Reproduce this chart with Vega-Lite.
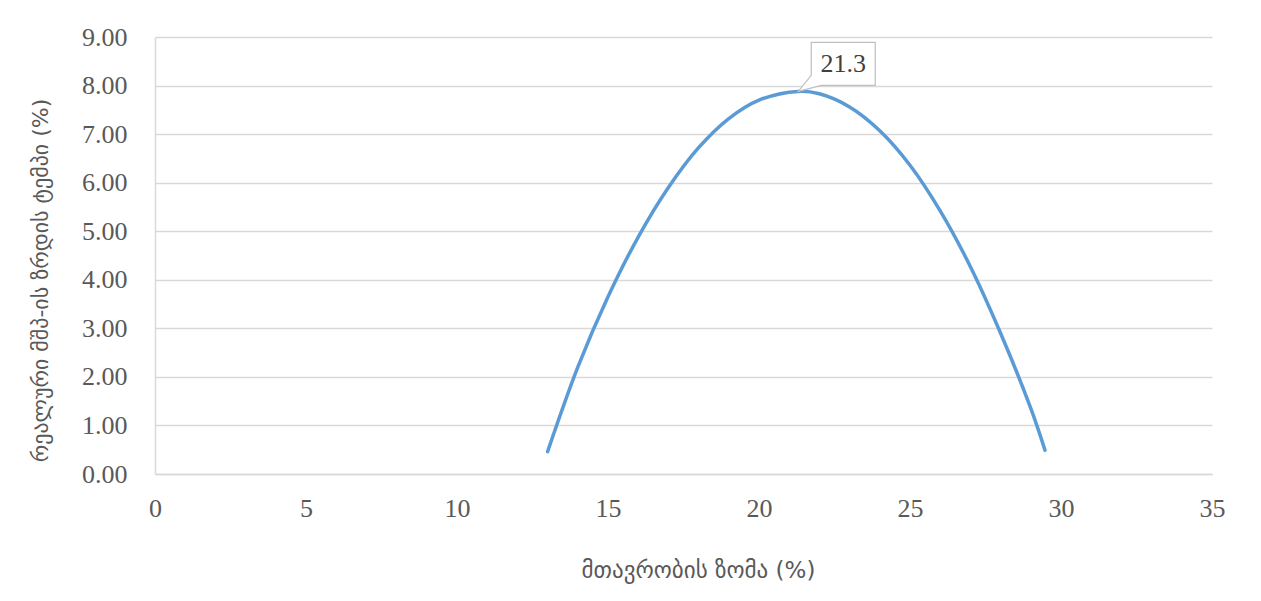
{
  "$schema": "https://vega.github.io/schema/vega-lite/v6.json",
  "width": 1057,
  "height": 437,
  "autosize": {"type": "none"},
  "padding": {"left": 155, "top": 37, "right": 49, "bottom": 127},
  "background": "white",
  "config": {"view": {"stroke": null}},
  "datasets": {
    "curve": [
      {"x": 13.0, "y": 0.46},
      {"x": 14.0, "y": 2.2},
      {"x": 15.0, "y": 3.65},
      {"x": 16.0, "y": 4.88},
      {"x": 17.0, "y": 5.9},
      {"x": 18.0, "y": 6.72},
      {"x": 19.0, "y": 7.32},
      {"x": 20.0, "y": 7.7},
      {"x": 21.3, "y": 7.88},
      {"x": 22.0, "y": 7.83},
      {"x": 23.0, "y": 7.56},
      {"x": 24.0, "y": 7.07},
      {"x": 25.0, "y": 6.36},
      {"x": 26.0, "y": 5.42},
      {"x": 27.0, "y": 4.27},
      {"x": 28.0, "y": 2.9},
      {"x": 29.0, "y": 1.35},
      {"x": 29.47, "y": 0.49}
    ],
    "peak": [{"x": 21.3, "y": 7.88, "label": "21.3"}]
  },
  "encoding": {
    "x": {
      "field": "x",
      "type": "quantitative",
      "scale": {"domain": [0, 35], "nice": false},
      "axis": {
        "values": [0, 5, 10, 15, 20, 25, 30, 35],
        "grid": false,
        "ticks": false,
        "domain": true,
        "domainColor": "#d9d9d9",
        "domainWidth": 1.5,
        "labelFlush": false,
        "labelFont": "Liberation Serif",
        "labelFontSize": 26,
        "labelColor": "#595959",
        "labelPadding": 21,
        "title": "მთავრობის ზომა (%)",
        "titleFont": "DejaVu Sans",
        "titleFontSize": 23,
        "titleFontWeight": "normal",
        "titleColor": "#595959",
        "titleX": 543,
        "titleY": 96,
        "titleAlign": "center",
        "titleBaseline": "middle"
      }
    },
    "y": {
      "field": "y",
      "type": "quantitative",
      "scale": {"domain": [0, 9], "nice": false},
      "axis": {
        "values": [0, 1, 2, 3, 4, 5, 6, 7, 8, 9],
        "format": ".2f",
        "grid": true,
        "gridColor": "#d9d9d9",
        "gridWidth": 1.5,
        "ticks": false,
        "domain": true,
        "domainColor": "#d9d9d9",
        "domainWidth": 1.5,
        "labelFlush": false,
        "labelFont": "Liberation Serif",
        "labelFontSize": 26,
        "labelColor": "#595959",
        "labelPadding": 28,
        "title": "რეალური მშპ-ის ზრდის ტემპი (%)",
        "titleFont": "DejaVu Sans",
        "titleFontSize": 22,
        "titleFontWeight": "normal",
        "titleColor": "#595959",
        "titleX": -115,
        "titleY": 243,
        "titleAlign": "center",
        "titleBaseline": "middle"
      }
    }
  },
  "layer": [
    {
      "data": {"name": "curve"},
      "mark": {"type": "line", "color": "#5b9bd5", "strokeWidth": 3.5, "interpolate": "catmull-rom", "strokeCap": "round"}
    },
    {
      "data": {"name": "peak"},
      "mark": {
        "type": "point",
        "shape": "M0,0L1.3,-1.6L1.3,-4.9L7.7,-4.9L7.7,-0.6L2.3,-0.6Z",
        "size": 400,
        "filled": true,
        "fill": "white",
        "stroke": "#bfbfbf",
        "strokeWidth": 1.2,
        "opacity": 1
      }
    },
    {
      "data": {"name": "peak"},
      "mark": {"type": "text", "dx": 45, "dy": -27, "fontSize": 26, "font": "Liberation Serif", "color": "#404040", "align": "center", "baseline": "middle"},
      "encoding": {"text": {"field": "label"}}
    }
  ]
}
